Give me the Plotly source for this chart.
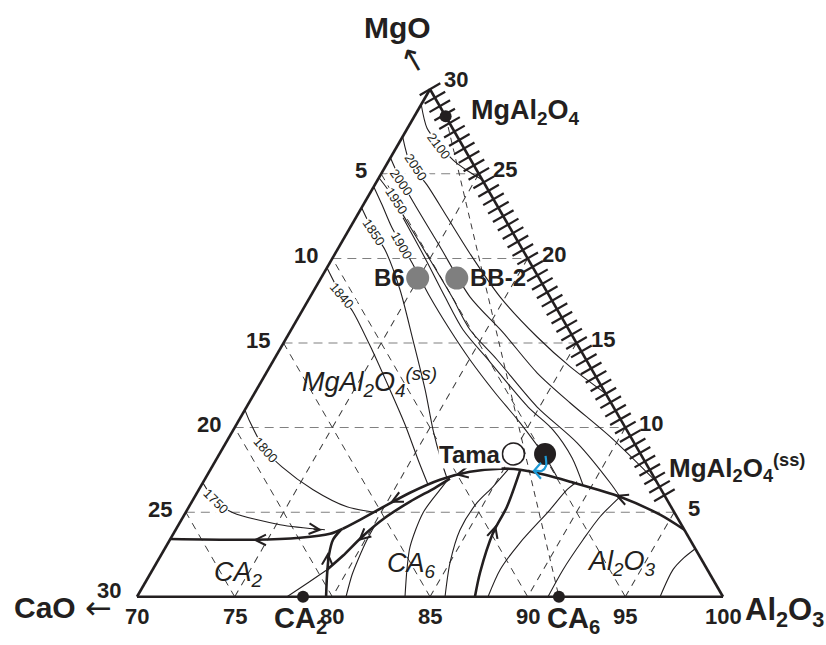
import numpy as np
import plotly.graph_objects as go

INK = "#231f20"
BLUE = "#1e9ad6"
SANS = "Liberation Sans, Arial, Helvetica, sans-serif"

# ---------------- axis ticks (wt%) ----------------
CAO_TICKS = [5, 10, 15, 20, 25, 30]        # left edge
MGO_TICKS = [30, 25, 20, 15, 10, 5]        # right edge
AL_TICKS = [70, 75, 80, 85, 90, 95, 100]   # bottom edge

# ---------------- isotherms: MgO / Al2O3 along each curve (CaO = balance) ----------------
ISO_2100_MGO = [29.1, 27.7, 26.7, 25.8, 25.2, 24.65]
ISO_2100_AL = [70.0, 71.0, 72.15, 73.3, 74.3, 75.35]
ISO_2050_MGO = [27.2, 25.65, 24.35, 22.46, 20.28, 17.73, 15.37, 13.6, 12.0]
ISO_2050_AL = [70.0, 71.15, 72.67, 74.64, 76.91, 79.72, 82.79, 85.37, 88.0]
ISO_2000_MGO = [25.95, 24.95, 23.47, 20.69, 17.73, 15.61, 13.24, 11.47, 9.46, 6.74]
ISO_2000_AL = [70.0, 70.89, 72.34, 75.17, 78.18, 80.94, 83.86, 86.43, 89.49, 93.26]
ISO_1950_MGO = [24.77, 24.06, 22.17, 19.92, 17.73, 15.78, 14.01, 11.23, 9.10, 6.74, 5.91]
ISO_1950_AL = [70.0, 70.82, 72.74, 75.04, 77.26, 79.16, 81.43, 84.86, 87.98, 90.85, 91.77]
ISO_1950B_MGO = [22.4, 19.92, 17.73, 15.78, 13.89, 11.23, 9.87, 8.22, 6.62]
ISO_1950B_AL = [72.42, 74.83, 76.90, 78.80, 81.12, 84.40, 86.36, 88.16, 89.52]
ISO_1900_MGO = [24.24, 23.17, 21.81, 19.74, 17.73, 15.78, 14.01, 12.06, 10.29, 8.10, 7.09]
ISO_1900_AL = [70.0, 70.96, 72.15, 74.21, 76.13, 78.13, 80.04, 82.30, 84.46, 86.94, 87.95]
ISO_1850_MGO = [23.0, 21.52, 20.51, 18.15, 15.19, 12.24, 9.87, 8.10, 7.03]
ISO_1850_AL = [70.0, 71.37, 72.44, 74.39, 76.53, 78.63, 80.22, 81.51, 82.35]
ISO_1840_MGO = [19.45, 17.79, 16.85, 14.60, 12.24, 10.17, 8.10, 6.62]
ISO_1840_AL = [70.0, 71.58, 72.63, 74.73, 76.83, 78.64, 80.34, 81.59]
ISO_1800_MGO = [11.05, 10.34, 8.69, 7.68, 6.33, 5.32, 4.97]
ISO_1800_AL = [70.0, 70.61, 72.21, 73.58, 75.85, 78.09, 79.80]
ISO_1750_MGO = [6.74, 5.62, 4.97, 4.26, 3.96]
ISO_1750_AL = [70.0, 71.23, 72.43, 75.19, 77.64]

# isotherms inside the CA2 / CA6 / Al2O3 fields
ARC_A_MGO = [0.0, 0.83, 1.60]
ARC_A_AL = [77.68, 78.34, 78.93]
ARC_B_MGO = [0.0, 1.30, 2.19, 3.37, 4.14]
ARC_B_AL = [80.70, 80.36, 80.22, 80.09, 80.07]
ARC_C_MGO = [0.0, 1.60, 2.96, 4.97, 6.33, 7.09]
ARC_C_AL = [83.72, 83.02, 82.50, 82.16, 82.35, 82.48]
ARC_D_MGO = [0.0, 2.01, 3.96, 5.56, 6.50, 7.51]
ARC_D_AL = [85.77, 85.02, 84.56, 84.63, 84.97, 85.24]
ARC_E_MGO = [0.0, 1.60, 3.19, 5.14, 6.33, 6.80]
ARC_E_AL = [87.97, 87.79, 88.01, 88.57, 88.85, 89.13]
ARC_F_MGO = [0.0, 1.60, 3.37, 4.73, 5.91]
ARC_F_AL = [91.04, 91.01, 91.15, 91.34, 91.77]
ARC_G_MGO = [0.0, 1.60, 2.31, 2.84]
ARC_G_AL = [96.78, 96.64, 96.85, 97.16]

ISO_LABELS = ["2100", "2050", "2000", "1950", "1900", "1850", "1840", "1800", "1750"]
ISO_LABEL_MGO = [26.60, 25.36, 24.50, 23.41, 20.75, 21.52, 17.79, 8.69, 5.62]
ISO_LABEL_AL = [72.16, 71.60, 71.30, 71.56, 73.17, 71.37, 71.58, 72.21, 71.23]
ISO_LABEL_ANGLE = [53, 57, 55, 57, 60, 56, 50, 49, 45]

# ---------------- field boundaries ----------------
BND_CA2_MGO = [3.41, 3.37, 3.49, 3.72, 4.02]
BND_CA2_AL = [70.0, 74.25, 76.60, 78.02, 78.53]
BND_DOME_MGO = [4.02, 4.55, 5.26, 6.15, 6.92, 7.39, 7.57, 7.51, 7.21, 6.80, 5.91, 4.85, 3.96]
BND_DOME_AL = [78.53, 79.14, 79.91, 80.90, 82.05, 83.35, 84.80, 85.86, 87.28, 88.77, 91.77, 94.35, 96.04]
BND_BAND_MGO = [1.60, 2.42, 3.55, 4.67, 5.62, 6.44, 6.98]
BND_BAND_AL = [78.93, 79.33, 79.75, 80.36, 81.17, 82.04, 82.53]
BND_CA2CA6_MGO = [0.0, 1.30, 2.48, 3.37, 3.96]
BND_CA2CA6_AL = [79.68, 79.08, 78.59, 78.35, 78.46]
BND_CA6AL_MGO = [7.47, 5.32, 3.78, 1.42, 0.0]
BND_CA6AL_AL = [85.88, 86.28, 86.34, 86.85, 87.30]

# direction chevrons on the boundaries (tip, and a point behind it)
ARROW_TIP_MGO = [3.37, 3.96, 5.56, 7.21, 6.03, 4.26, 3.31, 2.66]
ARROW_TIP_AL = [74.25, 77.49, 80.17, 82.68, 91.46, 86.25, 79.66, 78.45]
ARROW_TAIL_MGO = [3.37, 4.08, 6.15, 7.51, 5.32, 3.07, 4.14, 1.48]
ARROW_TAIL_AL = [75.38, 76.31, 80.90, 83.81, 93.35, 86.54, 80.07, 78.98]

# tie line spinel - CA6
TIE_MGO = [28.4, 0.0]
TIE_AL = [71.6, 91.6]

# ---------------- compounds and samples ----------------
COMPOUND_NAMES = ["MgAl2O4", "CA2", "CA6"]
COMPOUND_MGO = [28.4, 0.0, 0.0]
COMPOUND_AL = [71.6, 78.5, 91.6]
SAMPLE_NAMES = ["B6", "BB-2", "Tama", ""]
SAMPLE_MGO = [18.84, 18.84, 8.44, 8.44]
SAMPLE_AL = [74.95, 76.95, 85.05, 86.67]

BLUE_MGO = [8.33, 7.74, 7.45, 7.45]
BLUE_AL = [86.75, 87.07, 87.01, 86.65]
BLUE_HEAD_MGO = [7.92, 7.45, 6.98]
BLUE_HEAD_AL = [86.72, 86.60, 87.19]

# hatching along the spinel solid-solution edge (MgO wt%)
HATCH_MGO = np.arange(6.0, 30.01, 0.5)

PLOT_W, PLOT_H = 586, 507.5


def cao(mgo, al):
    return [max(0.0, round(100.0 - m - a, 4)) for m, a in zip(mgo, al)]


def paper(mgo, al):
    return mgo / 60.0 + (al - 70.0) / 30.0, mgo / 30.0


def curve(mgo, al, width, color=INK, dash=None, smooth=True):
    return go.Scatterternary(
        a=mgo, b=cao(mgo, al), c=al, mode="lines",
        line=dict(color=color, width=width, dash=dash,
                  shape="spline" if smooth else "linear", smoothing=0.8),
        hoverinfo="skip", showlegend=False, cliponaxis=False)


def label(x, y, text, font, xanchor="center", yanchor="middle", **kw):
    return dict(x=x, y=y, xref="paper", yref="paper", text=text, showarrow=False,
                xanchor=xanchor, yanchor=yanchor, font=font, **kw)


fig = go.Figure()

# tie line
fig.add_trace(curve(TIE_MGO, TIE_AL, 0.9, dash="6px,5px", smooth=False))

# isotherms
for m, a in [(ISO_2100_MGO, ISO_2100_AL), (ISO_2050_MGO, ISO_2050_AL),
             (ISO_2000_MGO, ISO_2000_AL), (ISO_1950_MGO, ISO_1950_AL),
             (ISO_1950B_MGO, ISO_1950B_AL), (ISO_1900_MGO, ISO_1900_AL),
             (ISO_1850_MGO, ISO_1850_AL), (ISO_1840_MGO, ISO_1840_AL),
             (ISO_1800_MGO, ISO_1800_AL), (ISO_1750_MGO, ISO_1750_AL),
             (ARC_A_MGO, ARC_A_AL), (ARC_B_MGO, ARC_B_AL), (ARC_C_MGO, ARC_C_AL),
             (ARC_D_MGO, ARC_D_AL), (ARC_E_MGO, ARC_E_AL), (ARC_F_MGO, ARC_F_AL),
             (ARC_G_MGO, ARC_G_AL)]:
    fig.add_trace(curve(m, a, 1.1))

# boundaries
for m, a in [(BND_CA2_MGO, BND_CA2_AL), (BND_DOME_MGO, BND_DOME_AL),
             (BND_BAND_MGO, BND_BAND_AL), (BND_CA2CA6_MGO, BND_CA2CA6_AL),
             (BND_CA6AL_MGO, BND_CA6AL_AL)]:
    fig.add_trace(curve(m, a, 2.6))

# hatch ticks on the right edge
fig.add_trace(go.Scatterternary(
    a=HATCH_MGO, b=np.zeros_like(HATCH_MGO), c=100 - HATCH_MGO, mode="markers",
    marker=dict(symbol="line-ew", size=17, angle=-30, opacity=1,
                line=dict(width=2.2, color=INK)),
    hoverinfo="skip", showlegend=False, cliponaxis=False))

# compounds
fig.add_trace(go.Scatterternary(
    a=COMPOUND_MGO, b=cao(COMPOUND_MGO, COMPOUND_AL), c=COMPOUND_AL, mode="markers",
    marker=dict(size=12, color=INK, opacity=1),
    hoverinfo="skip", showlegend=False, cliponaxis=False))

# samples
fig.add_trace(go.Scatterternary(
    a=SAMPLE_MGO, b=cao(SAMPLE_MGO, SAMPLE_AL), c=SAMPLE_AL, mode="markers",
    marker=dict(size=[23, 23, 22, 22], color=["#7f7f7f", "#7f7f7f", "white", INK],
                opacity=1, line=dict(width=[0, 0, 1.6, 0], color=INK)),
    hoverinfo="skip", showlegend=False, cliponaxis=False))

fig.add_trace(curve(BLUE_MGO, BLUE_AL, 2.2, color=BLUE))
fig.add_trace(curve(BLUE_HEAD_MGO, BLUE_HEAD_AL, 2.2, color=BLUE, smooth=False))

ann = []

# isotherm labels
for t, m, a, ang in zip(ISO_LABELS, ISO_LABEL_MGO, ISO_LABEL_AL, ISO_LABEL_ANGLE):
    x, y = paper(m, a)
    ann.append(label(x, y, t, dict(family=SANS, size=13, color=INK),
                     textangle=ang, bgcolor="white", borderpad=0))

# chevrons
for tm, ta, sm, sa in zip(ARROW_TIP_MGO, ARROW_TIP_AL, ARROW_TAIL_MGO, ARROW_TAIL_AL):
    tx, ty = paper(tm, ta)
    sx, sy = paper(sm, sa)
    dx = (sx - tx) * PLOT_W
    dy = -(sy - ty) * PLOT_H
    L = (dx * dx + dy * dy) ** 0.5
    ann.append(dict(x=tx, y=ty, xref="paper", yref="paper", text="", showarrow=True,
                    arrowhead=5, arrowsize=1.4, arrowwidth=1.5, arrowcolor=INK,
                    ax=dx / L * 10, ay=dy / L * 10))

# tick labels
tick_font = dict(family=SANS, size=22, color=INK)
for c in CAO_TICKS:
    x, y = paper(30 - c, 70)
    ann.append(label(x, y, f"<b>{c}</b>", tick_font, xanchor="right",
                     xshift=-12 if c < 30 else -14, yshift=7 if c == 30 else 3))
for m in MGO_TICKS:
    x, y = paper(m, 100 - m)
    ann.append(label(x, y, f"<b>{m}</b>", tick_font, xanchor="left",
                     xshift=12, yshift=10 if m == 30 else 4))
for a in AL_TICKS:
    x, y = paper(0, a)
    ann.append(label(x, y, f"<b>{a}</b>", tick_font, yshift=-19))

big = dict(family=SANS, size=30, color=INK)
arrow_font = dict(family="DejaVu Sans", size=32, color=INK)
ann += [
    label(0.4445, 1.122, "<b>MgO</b>", big),
    label(0.4735, 1.058, "\u2190", arrow_font, textangle=60),
    label(-0.157, -0.02, "<b>CaO</b>", big),
    label(-0.066, -0.022, "\u2190", arrow_font),
    label(1.034, -0.03, "<b>Al<sub>2</sub>O<sub>3</sub></b>",
          dict(family=SANS, size=31, color=INK), xanchor="left"),
    label(0.566, 0.955, "<b>MgAl<sub>2</sub>O<sub>4</sub></b>",
          dict(family=SANS, size=27, color=INK), xanchor="left"),
    label(0.9044, 0.254, "<b>MgAl<sub>2</sub>O<sub>4</sub><sup>(ss)</sup></b>",
          dict(family=SANS, size=26, color=INK), xanchor="left"),
    label(0.230, -0.045, "<b>CA<sub>2</sub></b>",
          dict(family=SANS, size=29, color=INK), xanchor="left"),
    label(0.696, -0.045, "<b>CA<sub>6</sub></b>",
          dict(family=SANS, size=29, color=INK), xanchor="left"),
]

ital = dict(family=SANS, size=27, color=INK)
ann += [
    label(0.278, 0.423, "<i>MgAl<sub>2</sub>O<sub>4</sub><sup>(ss)</sup></i>", ital, xanchor="left"),
    label(0.128, 0.045, "<i>CA<sub>2</sub></i>", ital, xanchor="left"),
    label(0.423, 0.063, "<i>CA<sub>6</sub></i>", ital, xanchor="left"),
    label(0.7645, 0.067, "<i>Al<sub>2</sub>O<sub>3</sub></i>", ital, xanchor="left"),
]

# sample labels
label_font = dict(family=SANS, size=24, color=INK)
for name, m, a, side in [(SAMPLE_NAMES[0], SAMPLE_MGO[0], SAMPLE_AL[0], "right"),
                         (SAMPLE_NAMES[1], SAMPLE_MGO[1], SAMPLE_AL[1], "left"),
                         (SAMPLE_NAMES[2], SAMPLE_MGO[2], SAMPLE_AL[2], "right")]:
    x, y = paper(m, a)
    extra = dict(bgcolor="white", borderpad=0) if name == "Tama" else {}
    ann.append(label(x, y, f"<b>{name}</b>", label_font, xanchor=side,
                     xshift=-11 if side == "right" else 11, **extra))

axis_common = dict(showticklabels=False, ticks="", linecolor=INK, linewidth=2.6,
                   showgrid=True, dtick=5, layer="above traces", title=dict(text=""))

fig.update_layout(
    width=826, height=645,
    margin=dict(l=137, r=103, t=89, b=48, autoexpand=False),
    paper_bgcolor="white",
    showlegend=False,
    annotations=ann,
    ternary=dict(
        sum=100, bgcolor="white",
        domain=dict(x=[0, 1], y=[0, 1]),
        aaxis=dict(min=0, gridcolor="#808080", gridwidth=1.4, griddash="9px,6px", **axis_common),
        baxis=dict(min=0, gridcolor="#3a3a3a", gridwidth=0.8, griddash="7px,6px", **axis_common),
        caxis=dict(min=70, gridcolor="#3a3a3a", gridwidth=0.8, griddash="7px,6px", **axis_common),
    ),
)

fig.write_html("out.html")
